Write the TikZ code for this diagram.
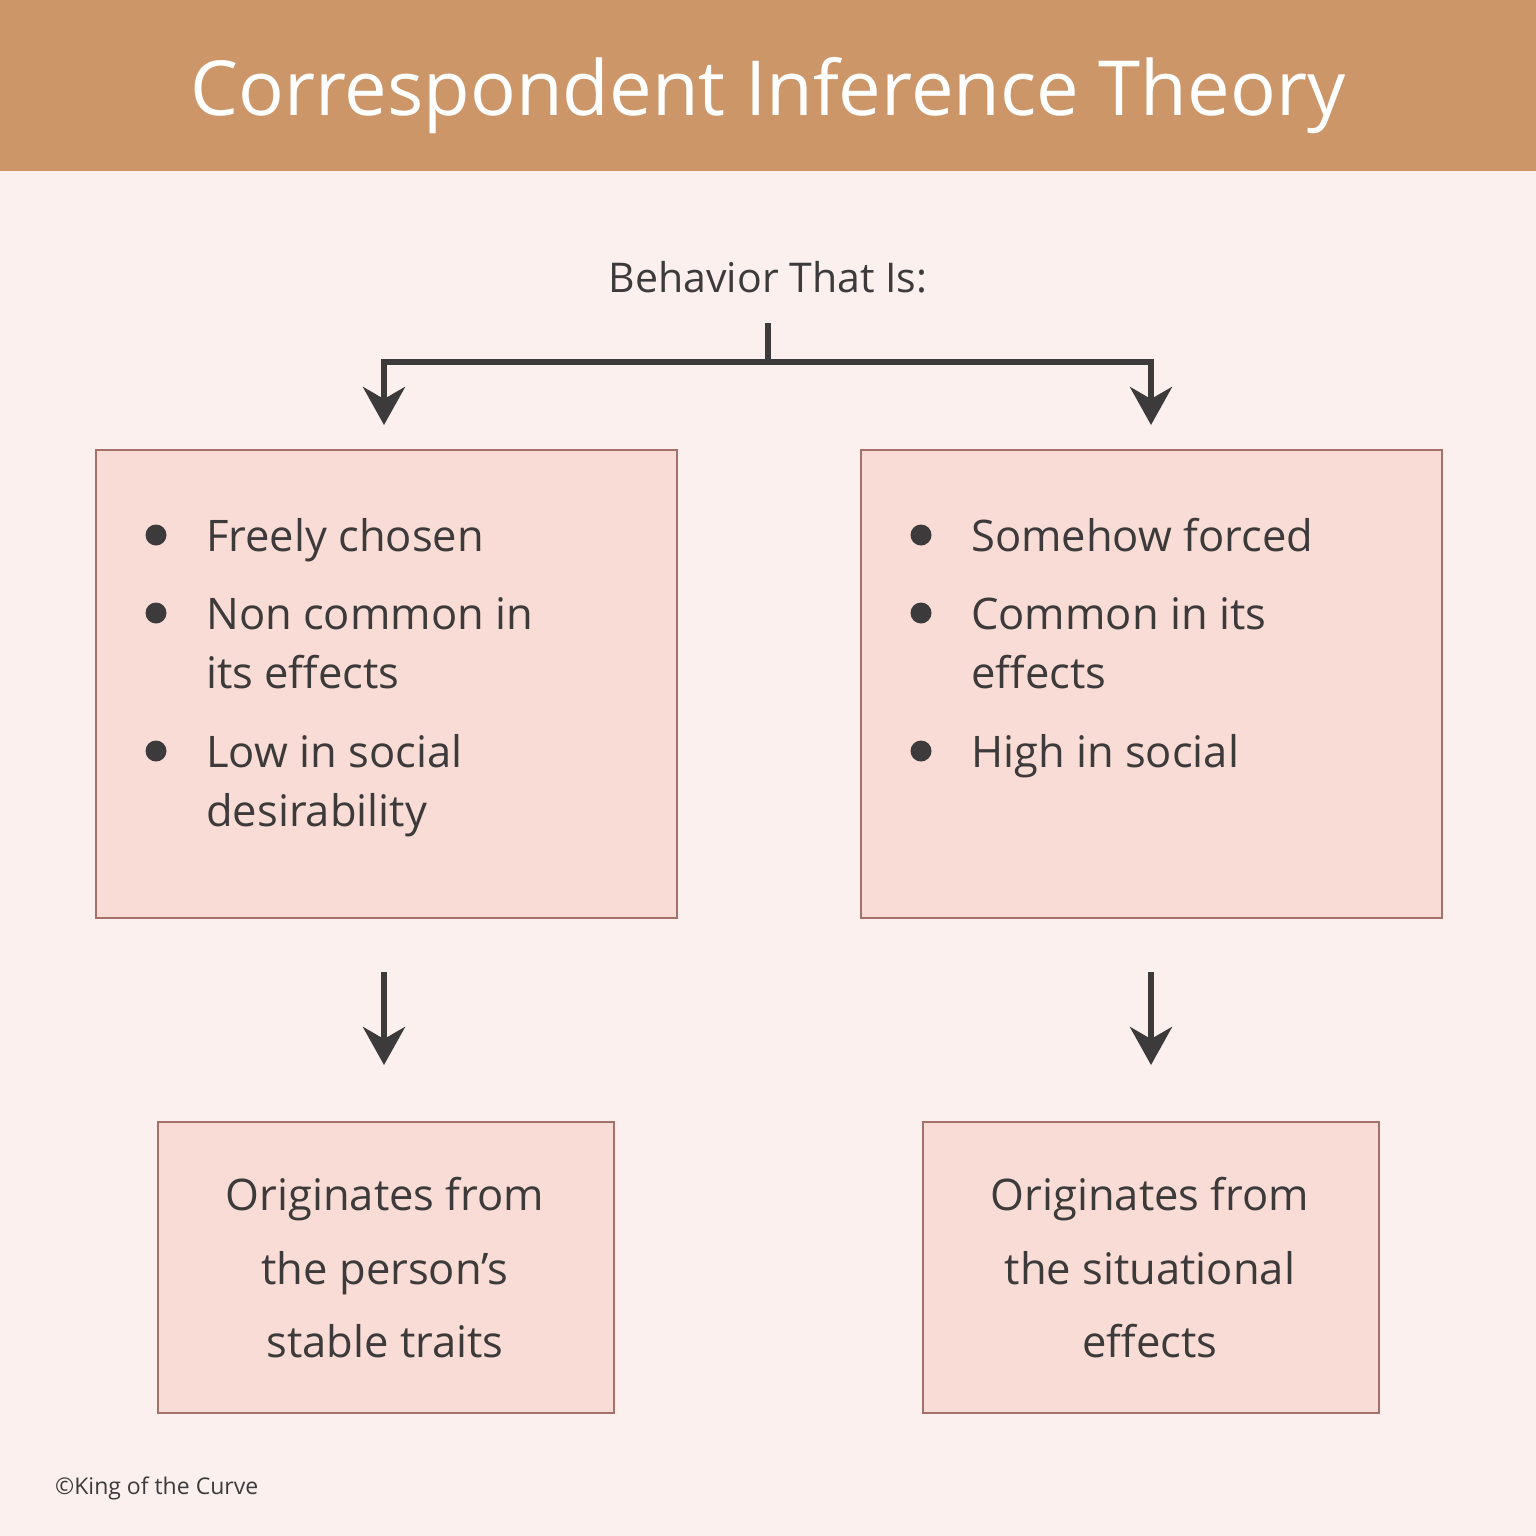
\documentclass[tikz,border=0pt]{standalone}
\usepackage{fontspec}
\setmainfont{Open Sans}
\usetikzlibrary{arrows.meta}
\definecolor{hdr}{HTML}{CD9668}
\definecolor{bg}{HTML}{FCF0EE}
\definecolor{boxfill}{HTML}{F9DCD5}
\definecolor{boxline}{HTML}{A3706A}
\definecolor{ink}{HTML}{3C3A3A}
\tikzset{
  panel/.style={draw=boxline, line width=1.5pt, fill=boxfill, inner sep=0pt, anchor=north west},
  bodytext/.style={text=ink, font=\fontsize{43.5}{50}\selectfont, inner sep=0pt, anchor=base west},
  centertext/.style={text=ink, font=\fontsize{43.5}{50}\selectfont, inner sep=0pt, anchor=base},
  dot/.style={circle, fill=ink, minimum size=21pt, inner sep=0pt},
  conn/.style={draw=ink, line width=6pt},
  arr/.style={conn, -{Stealth[length=38pt, width=42pt, inset=12pt]}},
}
\begin{document}
\begin{tikzpicture}[x=1pt, y=-1pt]
\useasboundingbox (0,0) rectangle (1536,1536);
\fill[bg] (0,0) rectangle (1536,1536);
\fill[hdr] (0,0) rectangle (1536,171);
\node[text=white, font=\fontsize{76}{86}\selectfont, inner sep=0pt, anchor=base] (title) at (768,116) {Correspondent Inference Theory};
\node[centertext, font=\fontsize{41}{48}\selectfont] (beh) at (768,292) {Behavior That Is:};

% boxes
\node[panel, minimum width=581pt, minimum height=468pt] (L) at (95,449) {};
\node[panel, minimum width=581pt, minimum height=468pt] (R) at (860,449) {};
\node[panel, minimum width=456pt, minimum height=291pt] (LB) at (157,1121) {};
\node[panel, minimum width=456pt, minimum height=291pt] (RB) at (922,1121) {};

% top connector
\coordinate (split) at (768,323);
\coordinate (mid) at (768,362);
\coordinate (lcorner) at (384,362);
\coordinate (rcorner) at (1151,362);
\draw[conn] (split) -- (mid);
\draw[arr, line join=miter] (mid) -- (lcorner) -- ([yshift=24pt]L.north -| lcorner);
\draw[arr, line join=miter] (mid) -- (rcorner) -- ([yshift=24pt]R.north -| rcorner);

% middle arrows
\coordinate (la) at (384,972);
\coordinate (ra) at (1151,972);
\draw[arr] (la) -- ([yshift=56pt]LB.north -| la);
\draw[arr] (ra) -- ([yshift=56pt]RB.north -| ra);

% left bullets
\node[dot] (ld1) at (156,535) {};
\node[dot] (ld2) at (156,613) {};
\node[dot] (ld3) at (156,751) {};
\node[bodytext] (l1) at (206,551) {Freely chosen};
\node[bodytext] (l2) at (206,629) {Non common in};
\node[bodytext] (l3) at (206,688) {its effects};
\node[bodytext] (l4) at (206,767) {Low in social};
\node[bodytext] (l5) at (206,826) {desirability};

% right bullets
\node[dot] (rd1) at (921,535) {};
\node[dot] (rd2) at (921,613) {};
\node[dot] (rd3) at (921,751) {};
\node[bodytext] (r1) at (971,551) {Somehow forced};
\node[bodytext] (r2) at (971,629) {Common in its};
\node[bodytext] (r3) at (971,688) {effects};
\node[bodytext] (r4) at (971,767) {High in social};

% bottom texts
\node[centertext] (b1) at (385,1210) {Originates from};
\node[centertext] (b2) at (385,1284) {the person’s};
\node[centertext] (b3) at (385,1357) {stable traits};
\node[centertext] (c1) at (1150,1210) {Originates from};
\node[centertext] (c2) at (1150,1284) {the situational};
\node[centertext] (c3) at (1150,1357) {effects};

\node[text=ink, font=\fontsize{23}{26}\selectfont, inner sep=0pt, anchor=base west] (foot) at (55,1494) {©King of the Curve};
\end{tikzpicture}
\end{document}
